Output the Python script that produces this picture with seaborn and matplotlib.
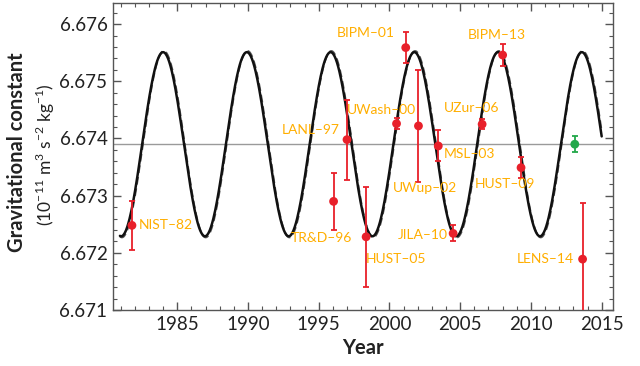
import numpy as np
import pandas as pd
import matplotlib
matplotlib.use("Agg")
import matplotlib.pyplot as plt
import seaborn as sns
from matplotlib.ticker import MultipleLocator

# ---- data ----
labels = ["NIST–82", "TR&D–96", "LANL–97", "HUST–05", "UWash–00", "BIPM–01",
          "UWup–02", "MSL–03", "JILA–10", "UZur–06", "BIPM–13", "HUST–09", "LENS–14"]
years = [1981.8, 1996.05, 1997.0, 1998.35, 2000.5, 2001.15,
         2002.05, 2003.45, 2004.5, 2006.55, 2008.0, 2009.3, 2013.65]
values = [6.67248, 6.67290, 6.67398, 6.67228, 6.67426, 6.67559,
          6.67422, 6.67387, 6.67234, 6.67425, 6.67546, 6.67349, 6.67189]
errors = [0.00043, 0.00050, 0.00070, 0.00087, 0.00010, 0.00027,
          0.00098, 0.00027, 0.00014, 0.00009, 0.00019, 0.00018, 0.00099]

green_year = [2013.1]
green_value = [6.67390]
green_error = [0.00014]

mean_G = 6.67390
# sinusoidal fit parameters (solid and dashed fits)
fit_solid = dict(amp=0.00161, period=5.92, peak=1984.0)
fit_dashed = dict(amp=0.00163, period=5.92, peak=1984.05)
fit_start, fit_end = 1980.95, 2015.0

xticks = [1985, 1990, 1995, 2000, 2005, 2010, 2015]
yticks = [6.671, 6.672, 6.673, 6.674, 6.675, 6.676]

# label offsets in pixels (dx, dy) and horizontal alignment
label_style = {
    "NIST–82": (7, 0, "left"), "TR&D–96": (19, -37, "right"),
    "LANL–97": (-7, 10, "right"), "HUST–05": (0, -22, "left"),
    "UWash–00": (19, 14, "right"), "BIPM–01": (-11, 15, "right"),
    "UWup–02": (-26, -62, "left"), "MSL–03": (5, -8, "left"),
    "JILA–10": (-5, -2, "right"), "UZur–06": (17, 16, "right"),
    "BIPM–13": (-6, 20, "center"), "HUST–09": (14, -16, "right"),
    "LENS–14": (-9, 0, "right"),
}

sns.set_theme(style="ticks")
plt.rcParams["font.family"] = ["Lato", "DejaVu Sans"]
plt.rcParams["mathtext.fontset"] = "custom"
plt.rcParams["mathtext.rm"] = "Lato"

fig = plt.figure(figsize=(6.4, 3.66), dpi=100)
ax = fig.add_axes([113/640, 1-310/366, 500/640, 307/366])

t = np.linspace(fit_start, fit_end, 800)
def curve(p):
    return mean_G + p["amp"] * np.cos(2*np.pi*(t - p["peak"]) / p["period"])
df_s = pd.DataFrame({"t": t, "G": curve(fit_solid)})
df_d = pd.DataFrame({"t": t, "G": curve(fit_dashed)})

ax.axhline(mean_G, color="#9a9a9a", lw=1.0, zorder=1)
sns.lineplot(data=df_d, x="t", y="G", ax=ax, color="#555555", lw=1.4,
             linestyle=(0, (4, 2)), zorder=2)
sns.lineplot(data=df_s, x="t", y="G", ax=ax, color="#111111", lw=1.8, zorder=3)

red = "#E8202A"
green = "#22A84A"
orange = "#FFAE00"
ax.errorbar(years, values, yerr=errors, fmt="none", ecolor=red, elinewidth=1.3,
            capsize=2.5, capthick=1.3, zorder=4)
df_pts = pd.DataFrame({"year": years, "G": values})
sns.scatterplot(data=df_pts, x="year", y="G", ax=ax, color=red, s=40,
                edgecolor="none", zorder=5)
ax.errorbar(green_year, green_value, yerr=green_error, fmt="none", ecolor=green,
            elinewidth=1.3, capsize=2.5, capthick=1.3, zorder=4)
sns.scatterplot(x=green_year, y=green_value, ax=ax, color=green, s=40,
                edgecolor="none", zorder=5)

for lab, x, y in zip(labels, years, values):
    dx, dy, ha = label_style[lab]
    ax.annotate(lab, (x, y), xytext=(dx, dy), textcoords="offset pixels",
                ha=ha, va="center", color=orange, fontsize=10, zorder=6)

ax.set_xlim(1980.46, 2015.8)
ax.set_ylim(6.671, 6.67637)
ax.set_xticks(xticks)
ax.set_yticks(yticks)
ax.set_yticklabels([f"{v:.3f}" for v in yticks])
ax.xaxis.set_minor_locator(MultipleLocator(1))
ax.yaxis.set_minor_locator(MultipleLocator(0.0002))
ax.tick_params(which="both", direction="in", top=True, right=True,
               color="#555555", labelcolor="#222222")
ax.tick_params(which="major", length=6, width=1, labelsize=13.5, pad=4)
ax.tick_params(which="minor", length=3, width=0.8)
for s in ax.spines.values():
    s.set_color("#555555")
    s.set_linewidth(1.0)

ax.set_xlabel("Year", fontsize=14.5, fontweight="bold", color="#222222", labelpad=4)
ax.set_ylabel("")
fig.text(17/640, 1-152/366, "Gravitational constant", rotation=90, ha="center",
         va="center", fontsize=14.5, fontweight="bold", color="#222222")
fig.text(45/640, 1-155/366, r"(10$^{-11}$ m$^{3}$ s$^{-2}$ kg$^{-1}$)", rotation=90,
         ha="center", va="center", fontsize=12.5, color="#222222")

fig.savefig("out.png", dpi=100)
